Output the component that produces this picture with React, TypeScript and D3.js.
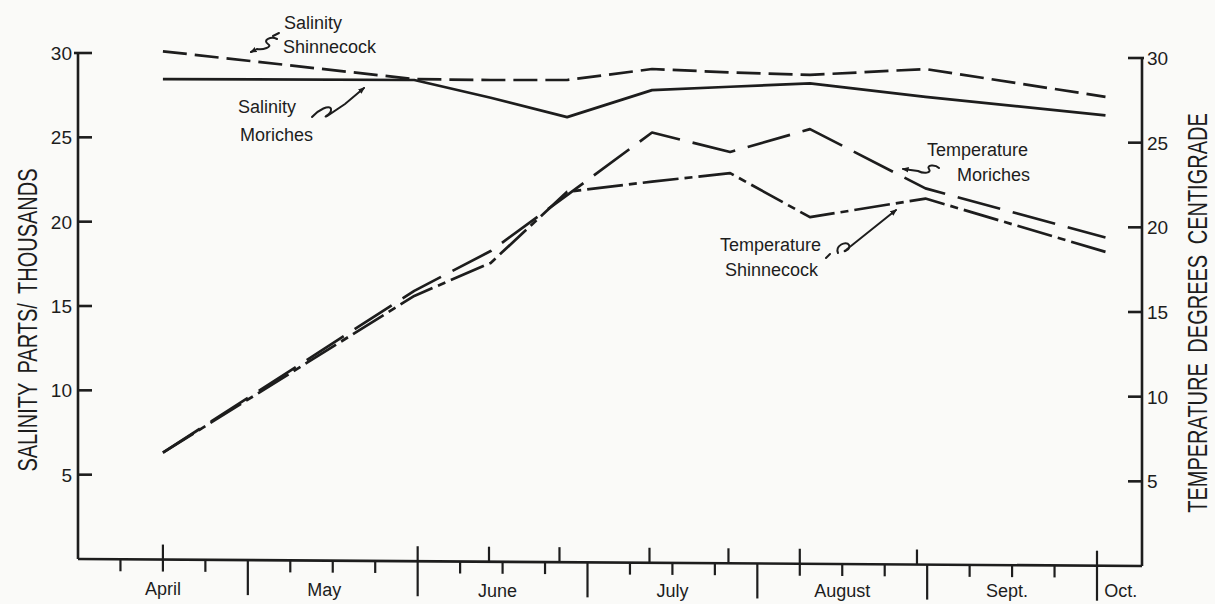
import React from "react";
import * as d3 from "d3";

// ---- data (x = months since 1 April) ----
const monthNames = ["April", "May", "June", "July", "August", "Sept.", "Oct."];
const monthLabelAt = [0.5, 1.45, 2.47, 3.5, 4.5, 5.47, 6.14];
const monthBoundaries = [1, 2, 3, 4, 5, 6];
const quarterTicks = [
  0.25, 0.5, 0.75, 1.25, 1.5, 1.75, 2.25, 2.5, 2.75,
  3.25, 3.5, 3.75, 4.25, 4.5, 4.75, 5.25, 5.5, 5.75,
];
const samplingTicks = [0.5, 2.0, 2.42, 2.835, 3.365, 3.83, 4.25, 4.94, 6.0];

const sampleMonths = [0.5, 1.98, 2.43, 2.88, 3.38, 3.84, 4.31, 4.99, 6.05];
const salinityShinnecock = [30.1, 28.45, 28.4, 28.4, 29.05, 28.85, 28.7, 29.05, 27.4];
const salinityMoriches = [28.45, 28.4, 27.35, 26.2, 27.8, 28.0, 28.2, 27.4, 26.3];
const temperatureMoriches = [6.7, 16.25, 18.6, 21.9, 25.6, 24.45, 25.8, 22.3, 19.4];
const temperatureShinnecock = [6.7, 15.95, 17.9, 22.1, 22.7, 23.2, 20.6, 21.7, 18.55];

const salinityTicks = [5, 10, 15, 20, 25, 30];
const temperatureTicks = [5, 10, 15, 20, 25, 30];

const INK = "#1d1d1d";

export default function App() {
  const x = d3.scaleLinear().domain([0, 6.265]).range([78, 1142]);
  const ySal = d3.scaleLinear().domain([0, 30]).range([559, 53]);
  const yTemp = d3.scaleLinear().domain([0, 30]).range([566, 58]);
  const x0 = x.range()[0];
  const x1 = x.range()[1];
  const baseY = (px: number) =>
    ySal(0) + ((yTemp(0) - ySal(0)) * (px - x0)) / (x1 - x0);

  const salLine = d3
    .line<number>()
    .x((_, i) => x(sampleMonths[i]))
    .y((d) => ySal(d));
  const tempLine = d3
    .line<number>()
    .x((_, i) => x(sampleMonths[i]))
    .y((d) => yTemp(d));

  const lineProps = {
    fill: "none",
    stroke: INK,
    strokeWidth: 2.7,
    strokeLinejoin: "round" as const,
  };

  return (
    <svg
      width={1215}
      height={604}
      style={{ position: "absolute", left: 0, top: 0, background: "#fafaf8" }}
      fontFamily="'Liberation Sans', Arial, sans-serif"
    >
      <defs>
        <marker
          id="ah"
          viewBox="0 0 10 10"
          refX="8"
          refY="5"
          markerWidth="7"
          markerHeight="7"
          orient="auto"
          markerUnits="userSpaceOnUse"
        >
          <path d="M0,1 L10,5 L0,9 Z" fill={INK} />
        </marker>
      </defs>

      {/* left axis */}
      <line x1={x0} x2={x0} y1={ySal(30)} y2={ySal(0)} stroke={INK} strokeWidth={2.6} />
      {salinityTicks.map((t) => (
        <g key={"ls" + t}>
          <line
            x1={t === 30 ? x0 - 4 : x0}
            x2={x0 + 14}
            y1={ySal(t)}
            y2={ySal(t)}
            stroke={INK}
            strokeWidth={2.6}
          />
          <text x={x0 - 6} y={ySal(t) + 7} textAnchor="end" fontSize={19} fill={INK}>
            {t}
          </text>
        </g>
      ))}

      {/* right axis */}
      <line x1={x1} x2={x1} y1={yTemp(30)} y2={yTemp(0)} stroke={INK} strokeWidth={2.6} />
      {temperatureTicks.map((t) => (
        <g key={"rt" + t}>
          <line
            x1={x1 - 14}
            x2={t === 30 ? x1 + 2 : x1}
            y1={yTemp(t)}
            y2={yTemp(t)}
            stroke={INK}
            strokeWidth={2.6}
          />
          <text x={x1 + 5} y={yTemp(t) + 7} textAnchor="start" fontSize={19} fill={INK}>
            {t}
          </text>
        </g>
      ))}

      {/* bottom axis */}
      <line x1={x0} y1={baseY(x0)} x2={x1} y2={baseY(x1)} stroke={INK} strokeWidth={2.6} />
      {quarterTicks.map((m) => {
        const px = x(m);
        return (
          <line key={"q" + m} x1={px} x2={px} y1={baseY(px)} y2={baseY(px) + 12} stroke={INK} strokeWidth={2.2} />
        );
      })}
      {monthBoundaries.map((m) => {
        const px = x(m);
        return (
          <line key={"mb" + m} x1={px} x2={px} y1={baseY(px)} y2={baseY(px) + 35} stroke={INK} strokeWidth={2.2} />
        );
      })}
      {samplingTicks.map((m) => {
        const px = x(m);
        return (
          <line key={"st" + m} x1={px} x2={px} y1={baseY(px) - 15} y2={baseY(px)} stroke={INK} strokeWidth={2.2} />
        );
      })}
      {monthNames.map((name, i) => {
        const px = x(monthLabelAt[i]);
        return (
          <text key={name} x={px} y={Math.min(baseY(px) + 35, 597)} textAnchor="middle" fontSize={18} fill={INK}>
            {name}
          </text>
        );
      })}

      {/* axis titles */}
      <text
        transform={`translate(37,320) rotate(-90) scale(1,1.35)`}
        textAnchor="middle"
        fontSize={20}
        fill={INK}
        style={{ wordSpacing: "4px" }}
      >
        SALINITY PARTS/ THOUSANDS
      </text>
      <text
        transform={`translate(1207,313) rotate(-90) scale(1,1.35)`}
        textAnchor="middle"
        fontSize={20}
        fill={INK}
        style={{ wordSpacing: "5px" }}
      >
        TEMPERATURE DEGREES CENTIGRADE
      </text>

      {/* series */}
      <path d={salLine(salinityMoriches) || ""} {...lineProps} />
      <path d={salLine(salinityShinnecock) || ""} {...lineProps} strokeDasharray="24 8" />
      <path d={tempLine(temperatureMoriches) || ""} {...lineProps} strokeDasharray="44 13" />
      <path d={tempLine(temperatureShinnecock) || ""} {...lineProps} strokeDasharray="36 6 8 6" />

      {/* annotations */}
      <g fontSize={18} fill={INK}>
        <text x={284} y={29}>Salinity</text>
        <text x={283} y={53}>Shinnecock</text>
        <text x={238} y={113}>Salinity</text>
        <text x={240} y={141}>Moriches</text>
        <text x={927} y={156}>Temperature</text>
        <text x={957} y={181}>Moriches</text>
        <text x={720} y={251}>Temperature</text>
        <text x={725} y={276}>Shinnecock</text>
      </g>
      <g fill="none" stroke={INK} strokeWidth={2} strokeLinecap="round">
        <path d="M273 36 L279 33" />
        <path d="M277 39 C271 36, 262 40, 268 44 C273 47, 263 50, 257 49 L251 52" markerEnd="url(#ah)" />
        <path d="M312 117 C318 110, 330 104, 331 109 C332 114, 322 118, 327 116 L345 104 L364 88" markerEnd="url(#ah)" />
        <path d="M939 168 C935 164, 926 165, 929 169 C932 173, 924 174, 918 171 L903 169" markerEnd="url(#ah)" />
        <path d="M826 258 L830 254" />
        <path d="M838 253 C835 246, 846 240, 849 245 C851 250, 841 253, 846 250 L896 210" markerEnd="url(#ah)" />
      </g>
    </svg>
  );
}
